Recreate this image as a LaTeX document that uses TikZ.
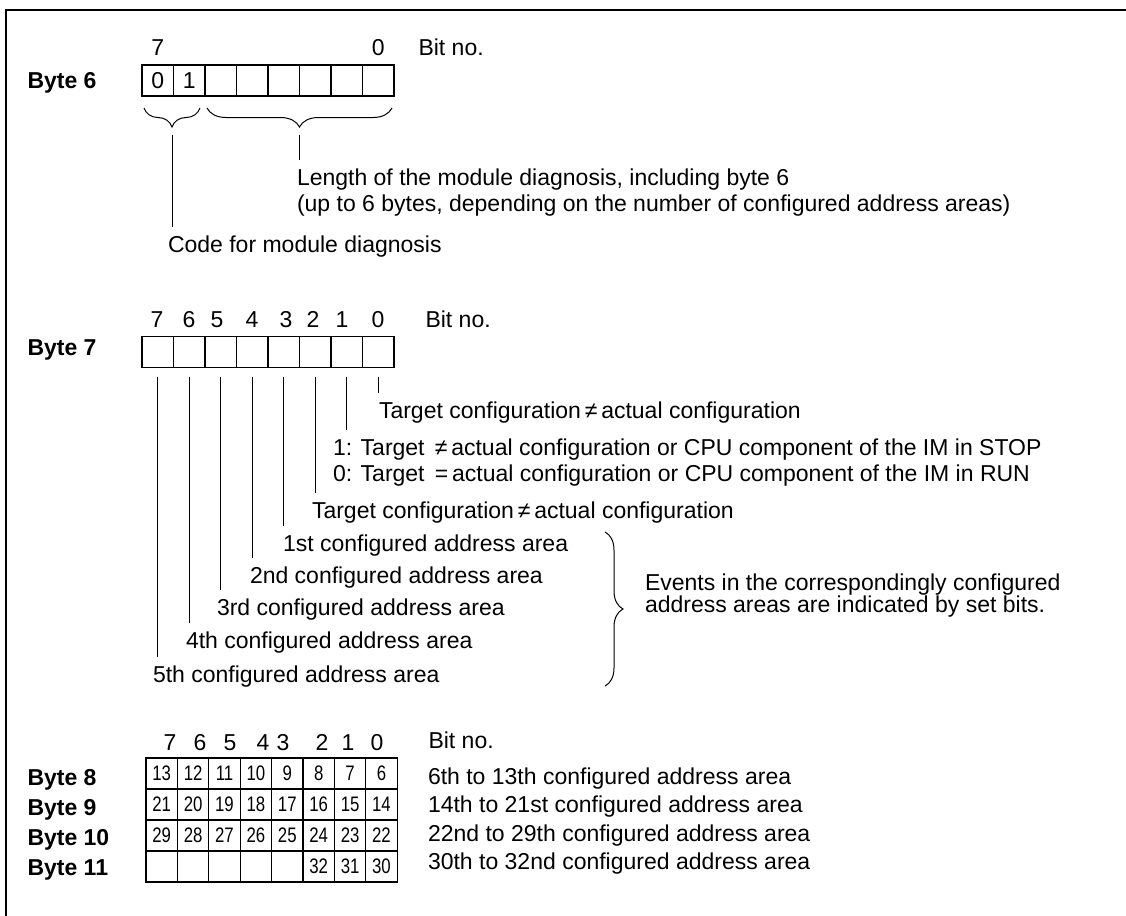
\documentclass[tikz,border=0pt]{standalone}
\usepackage{fontspec}
\setmainfont{Liberation Sans}
\newfontfamily\cellfont[FakeStretch=0.8]{Liberation Sans}
\usetikzlibrary{positioning, calc, decorations.pathreplacing}

\begin{document}
\begin{tikzpicture}[x=0.5pt, y=-0.5pt, line width=0.5pt,
    every node/.style={font=\fontsize{11.5}{13}\selectfont},
    bitcell/.style={draw, line width=0.6pt, minimum width=15.75pt, minimum height=15.5pt, inner sep=0pt, outer sep=0pt},
    numcell/.style={bitcell, font=\cellfont\fontsize{10.5}{11}\selectfont},
    bytelabel/.style={anchor=base west, inner sep=0pt, font=\bfseries\fontsize{11.5}{13}\selectfont},
    bitno/.style={anchor=base, inner sep=0pt},
    desc/.style={anchor=base west, align=left, inner sep=0pt, outer xsep=0pt, outer ysep=4pt},
    brace/.style={decorate, decoration={brace, amplitude=#1}}]

\useasboundingbox (0,0) rectangle (1126,916);
\draw[line width=0.8pt] (1126,10) -- (6,10) -- (6,916);

% byte 6
\node[bytelabel] (byte6) at (27,88) {Byte 6};
\node[bitno, anchor=base west] (bitno6) at (418,55) {Bit no.};
\foreach \b/\v in {7/0, 6/1, 5/{}, 4/{}, 3/{}, 2/{}, 1/{}, 0/{}}
  \node[bitcell] (a\b) at ({157.75+31.5*(7-\b)}, 80.5) {\v};
\node[bitno] at (a7.center |- bitno6.base) {7};
\node[bitno] at (a0.center |- bitno6.base) {0};

\draw[brace=9.5pt] ($(a6.south east)+(-5,12)$) -- ($(a7.south west)+(2,12)$);
\draw[brace=9.5pt] ($(a0.south east)+(-2,12)$) -- ($(a5.south west)+(2,12)$);
\coordinate (codetip) at ($(a7.south east)+(-1.5,39)$);
\coordinate (lentip) at ($(a3.south east)+(0,39)$);

% multi-line texts sit on their last baseline
\node[desc] (lentext) at (297,211) {Length of the module diagnosis, including byte 6\\(up to 6 bytes, depending on the number of configured address areas)};
\node[desc] (codetext) at (168,252) {Code for module diagnosis};
\draw (codetip) -- (codetip |- codetext.north);
\draw (lentip) -- (lentip |- lentext.north);

% byte 7
\node[bytelabel] (byte7) at (27,355) {Byte 7};
\node[bitno, anchor=base west] (bitno7) at (425,327) {Bit no.};
\foreach \b in {7,...,0}
  \node[bitcell] (b\b) at ({157.75+31.5*(7-\b)}, 352) {};
\foreach \b/\x in {7/157, 6/189, 5/217, 4/252, 3/286, 2/313, 1/342, 0/378}
  \node[bitno] at (\x,327) {\b};

\node[desc] (d0) at (379,418) {Target configuration\,≠\,actual configuration};
\node[desc] (d1) at (333,481) {1: Target \,≠\,actual configuration or CPU component of the IM in STOP\\0: Target \,=\,actual configuration or CPU component of the IM in RUN};
\node[desc] (d2) at (312,518) {Target configuration\,≠\,actual configuration};
\node[desc] (d3) at (283,551) {1st configured address area};
\node[desc] (d4) at (250,583) {2nd configured address area};
\node[desc] (d5) at (217,615) {3rd configured address area};
\node[desc] (d6) at (186,648) {4th configured address area};
\node[desc] (d7) at (153,682) {5th configured address area};
\foreach \b in {0,...,7}
  \draw ($(b\b.south)+(0,9)$) -- (b\b.south |- d\b.north);

\draw[brace=9pt] (605,532) -- (605,686);
\node[desc, font=\fontsize{11.5}{11}\selectfont] (events) at (645,612) {Events in the correspondingly configured\\address areas are indicated by set bits.};

% bytes 8 to 11
\node[bitno, anchor=base west] (bitno8) at (428,748) {Bit no.};
\foreach \b/\x in {7/170, 6/200, 5/230, 4/263, 3/283, 2/322, 1/348, 0/377}
  \node[bitno] at (\x,750) {\b};
\foreach \r in {8,...,11} {
  \node[bytelabel] (byte\r) at (27, {785+30*(\r-8)}) {Byte \r};
  \foreach \b in {7,...,0} {
    \pgfmathtruncatemacro\cellval{8*(\r-8)+6+\b}
    \ifnum\cellval>32 \def\cellval{}\fi
    \node[numcell] (t\r-\b) at ({161.7+31.4*(7-\b)}, {773.5+31*(\r-8)}) {\cellval};
  }
}
\foreach \r/\t in {8/6th to 13th, 9/14th to 21st, 10/22nd to 29th, 11/30th to 32nd}
  \node[desc, outer sep=0pt] (area\r) at (428, {784+28.5*(\r-8)}) {\t{} configured address area};

\end{tikzpicture}
\end{document}
